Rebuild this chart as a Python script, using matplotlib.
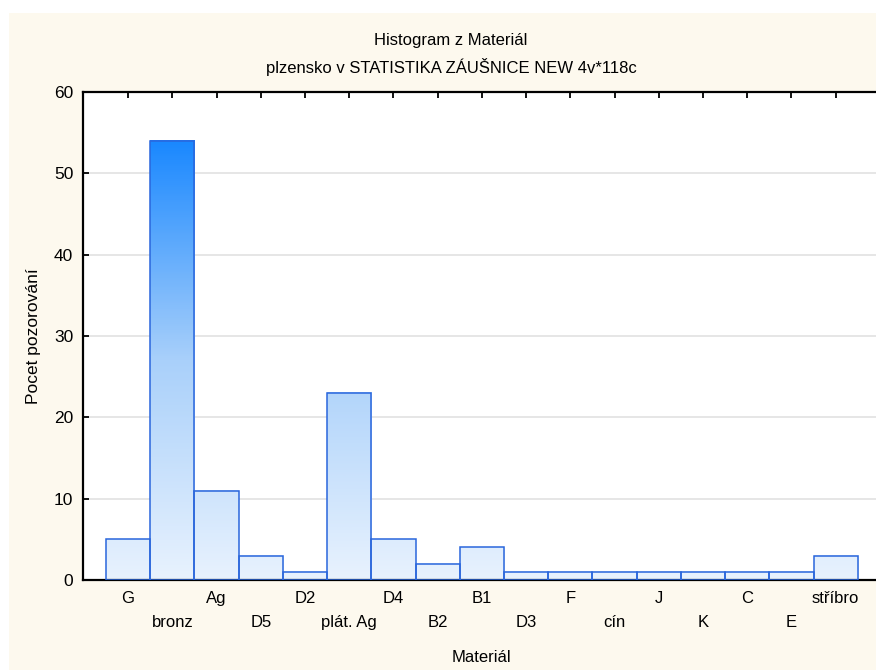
import numpy as np
import matplotlib
matplotlib.use("Agg")
import matplotlib.pyplot as plt
from matplotlib.colors import LinearSegmentedColormap
from matplotlib.patches import Rectangle

plt.rcParams['font.family'] = ['Liberation Sans', 'DejaVu Sans']

categories = ["G", "bronz", "Ag", "D5", "D2", "plát. Ag", "D4", "B2", "B1", "D3",
              "F", "cín", "J", "K", "C", "E", "stříbro"]
counts = [5, 54, 11, 3, 1, 23, 5, 2, 4, 1, 1, 1, 1, 1, 1, 1, 3]

W, H = 876, 670
fig = plt.figure(figsize=(W / 100, H / 100), dpi=100, facecolor='white')
# cream panel behind the chart
fig.patches.append(Rectangle((9 / W, 0), 1, (H - 13) / H, transform=fig.transFigure,
                             facecolor='#fdf9ee', edgecolor='none', zorder=-10))

ax = fig.add_axes([83 / W, (H - 580) / H, (879 - 83) / W, (580 - 92) / H])
ax.set_facecolor('white')

cmap = LinearSegmentedColormap.from_list('bluegrad', ['#e8f2fe', '#a9d0fa', '#1a88ff'])
vmax = 54
x = np.arange(len(categories))
bw = 1.0
for xi, c in zip(x, counts):
    grad = np.linspace(0, c, 200).reshape(-1, 1)
    ax.imshow(grad, cmap=cmap, vmin=0, vmax=vmax, origin='lower', aspect='auto',
              extent=(xi - bw / 2, xi + bw / 2, 0, c), zorder=2, interpolation='bilinear')
    ax.add_patch(Rectangle((xi - bw / 2, 0), bw, c, facecolor='none',
                           edgecolor='#2a66dc', linewidth=1.1, zorder=3))

ax.set_xlim(-1.02, 16.98)
ax.set_ylim(0, 60)
ax.set_yticks(range(0, 61, 10))
ax.yaxis.grid(True, color='#e2e2e2', linewidth=1.2, zorder=0)
ax.set_axisbelow(True)

labels = [lab if i % 2 == 0 else '\n' + lab for i, lab in enumerate(categories)]
ax.set_xticks(x)
ax.set_xticklabels(labels, fontsize=12, linespacing=1.75)
ax.tick_params(axis='x', direction='in', length=4, width=1.3, top=True, pad=8, color='black')
ax.tick_params(axis='y', direction='in', length=4, width=1.3, pad=7, labelsize=12.5)

for side in ['left', 'top', 'bottom']:
    ax.spines[side].set_linewidth(1.6)
ax.spines['right'].set_visible(False)

ax.set_xlabel("Materiál", fontsize=12, labelpad=14)
ax.set_ylabel("Pocet pozorování", fontsize=12.5, labelpad=9)

fig.text(451 / W, 1 - 40 / H, "Histogram z Materiál", ha='center', va='center', fontsize=12)
fig.text(451 / W, 1 - 67 / H, "plzensko v STATISTIKA ZÁUŠNICE NEW 4v*118c",
         ha='center', va='center', fontsize=12)

fig.savefig("out.png", dpi=100, facecolor=fig.get_facecolor())
